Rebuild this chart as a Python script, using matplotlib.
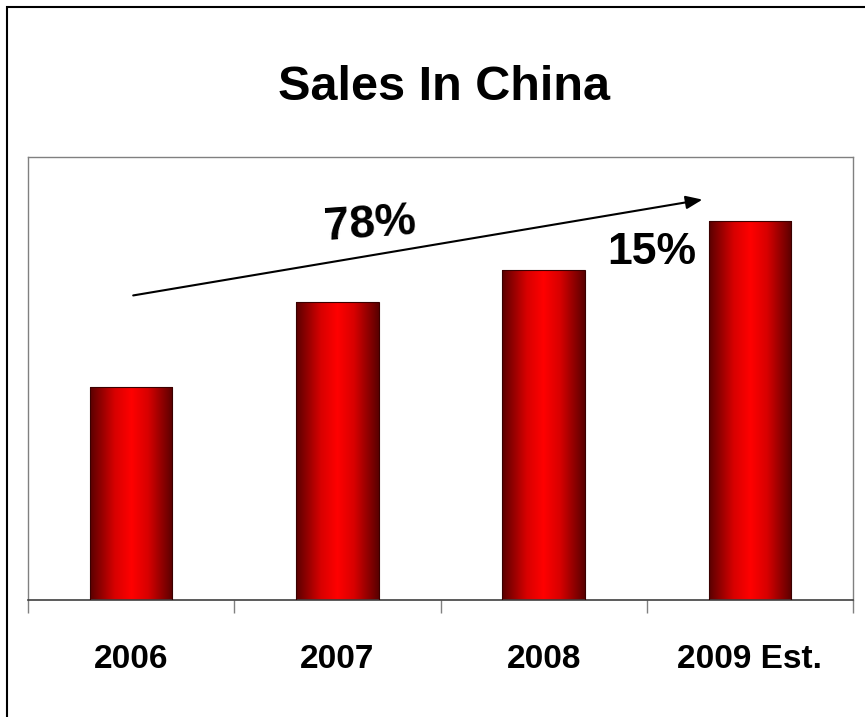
import numpy as np
import matplotlib
matplotlib.use("Agg")
import matplotlib.pyplot as plt
from matplotlib.colors import LinearSegmentedColormap
from matplotlib.patches import Rectangle

# sales index, 2006 = 100
years = ["2006", "2007", "2008", "2009 Est."]
sales = [100, 140, 155, 178]
growth_total = "78%"
growth_last = "15%"

font = ["Liberation Sans", "DejaVu Sans"]

fig = plt.figure(figsize=(8.65, 7.17), dpi=100)
ax = fig.add_axes([28 / 865, 1 - 600 / 717, 825 / 865, 443 / 717])

x = np.arange(len(years))
bars = ax.bar(x, sales, width=0.4, color="none", edgecolor="#3a0000", linewidth=0.8, zorder=3)

# dark edges -> bright red middle -> dark edges
shade = LinearSegmentedColormap.from_list(
    "barshade", [(0, "#5a0000"), (0.3, "#d80000"), (0.5, "#ff0000"),
                 (0.7, "#d80000"), (1, "#5a0000")])
grad = np.linspace(0, 1, 256).reshape(1, -1)
for b in bars:
    x0, y0 = b.get_x(), b.get_y()
    im = ax.imshow(grad, cmap=shade, aspect="auto", zorder=2,
                   extent=[x0, x0 + b.get_width(), y0, y0 + b.get_height()])
    im.set_clip_path(b)

ax.set_xlim(-0.5, len(years) - 0.5)
ax.set_ylim(0, 208)
ax.set_yticks([])

ax.set_xticks(x)
ax.set_xticklabels(years, fontsize=24, fontweight="bold", family=font)
ax.set_xticks(np.arange(-0.5, len(years)), minor=True)
ax.tick_params(axis="x", which="major", length=0, pad=32)
ax.tick_params(axis="x", which="minor", length=9, width=1, color="#808080")

for side in ["left", "right", "top"]:
    ax.spines[side].set_color("#808080")
    ax.spines[side].set_linewidth(1)
ax.spines["bottom"].set_color("#404040")
ax.spines["bottom"].set_linewidth(1.2)

# growth arrow and labels
ax.annotate("", xy=(2.77, 188), xytext=(0.01, 143),
            arrowprops=dict(arrowstyle="-|>,head_length=1.0,head_width=0.4",
                            color="black", lw=1.5, shrinkA=0, shrinkB=0))
ax.text(1.16, 176, growth_total, fontsize=33, fontweight="bold", family=font,
        ha="center", va="center", rotation=4, rotation_mode="anchor")
ax.text(2.525, 163, growth_last, fontsize=32, fontweight="bold", family=font,
        ha="center", va="center")

fig.text(0.513, 1 - 100 / 717, "Sales In China", fontsize=35, fontweight="bold",
         family=font, ha="center", va="baseline")

fig.patches.append(Rectangle((7.5 / 865, -0.1), 1.2, 1.1 - 7 / 717 + 0.0005,
                             transform=fig.transFigure, fill=False,
                             edgecolor="black", linewidth=1.5))

fig.savefig("out.png", dpi=100)
